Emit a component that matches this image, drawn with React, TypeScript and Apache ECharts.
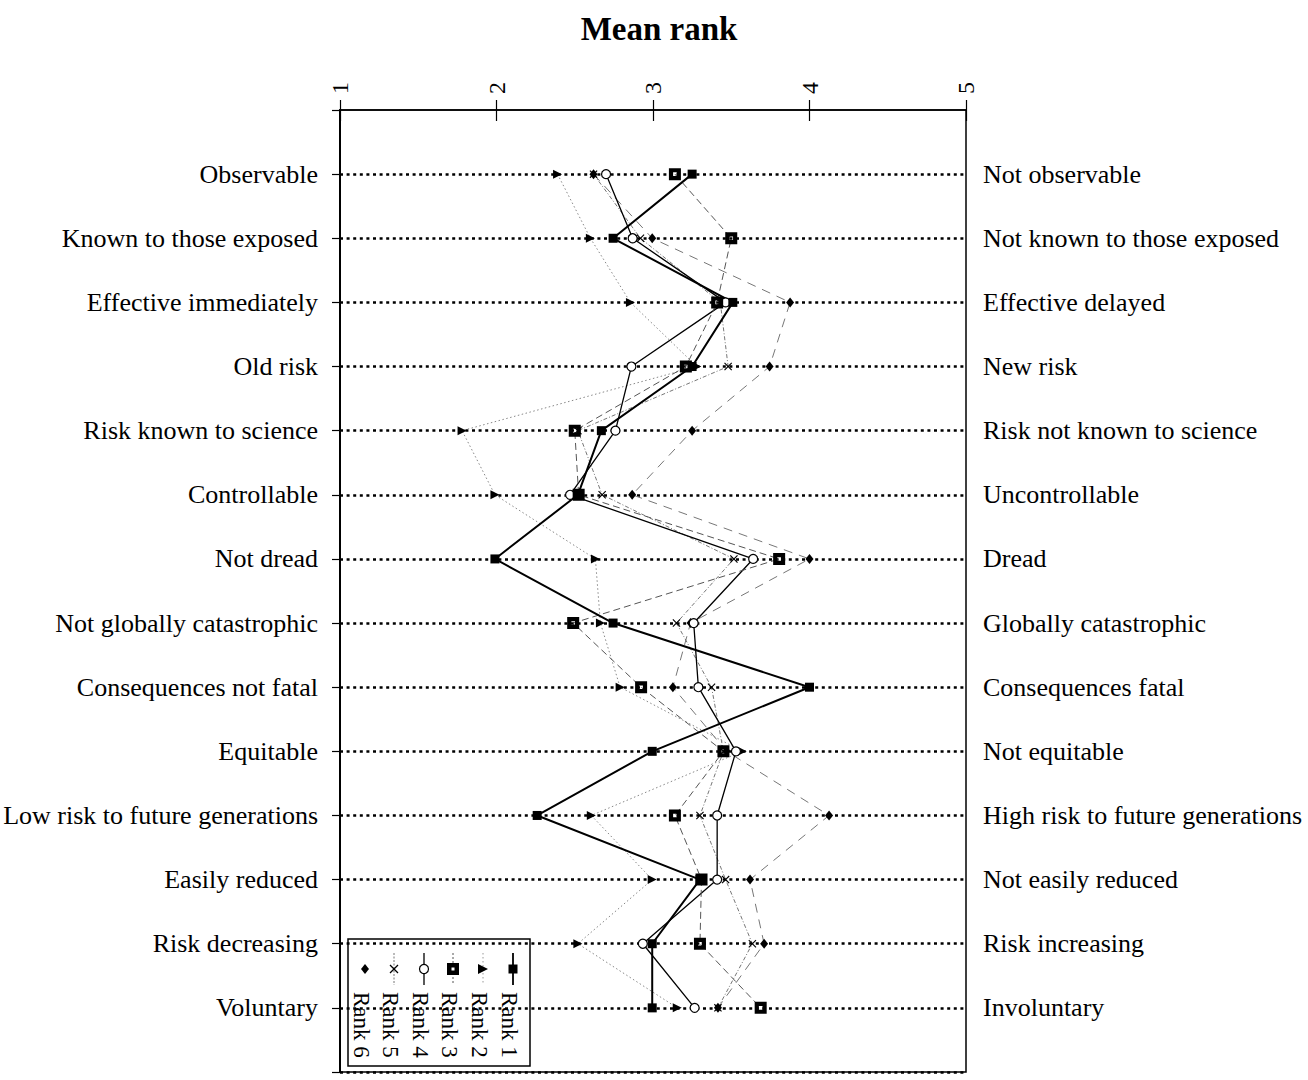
import React, { useEffect, useRef } from "react";
import * as echarts from "echarts";

const leftLabels = [
  "Observable",
  "Known to those exposed",
  "Effective immediately",
  "Old risk",
  "Risk known to science",
  "Controllable",
  "Not dread",
  "Not globally catastrophic",
  "Consequences not fatal",
  "Equitable",
  "Low risk to future generations",
  "Easily reduced",
  "Risk decreasing",
  "Voluntary",
];

const rightLabels = [
  "Not observable",
  "Not known to those exposed",
  "Effective delayed",
  "New risk",
  "Risk not known to science",
  "Uncontrollable",
  "Dread",
  "Globally catastrophic",
  "Consequences fatal",
  "Not equitable",
  "High risk to future generations",
  "Not easily reduced",
  "Risk increasing",
  "Involuntary",
];

const rankTicks = [1, 2, 3, 4, 5];

const rank1 = [3.25, 2.745, 3.51, 3.25, 2.67, 2.52, 1.99, 2.745, 4.0, 2.995, 2.26, 3.3, 2.995, 2.995];
const rank2 = [2.39, 2.6, 2.856, 3.28, 1.78, 1.99, 2.632, 2.664, 2.79, 3.57, 2.606, 2.995, 2.52, 3.155];
const rank3 = [3.14, 3.5, 3.41, 3.21, 2.5, 2.525, 3.806, 2.49, 2.924, 3.45, 3.14, 3.31, 3.3, 3.688];
const rank4 = [2.7, 2.87, 3.464, 2.862, 2.76, 2.47, 3.64, 3.26, 3.29, 3.53, 3.41, 3.41, 2.935, 3.266];
const rank5 = [2.62, 2.92, 3.43, 3.48, 2.52, 2.675, 3.517, 3.15, 3.374, 3.45, 3.3, 3.464, 3.635, 3.415];
const rank6 = [2.62, 2.995, 3.876, 3.745, 3.25, 2.867, 4.0, 3.24, 3.127, 3.47, 4.125, 3.62, 3.71, 3.415];

const FONT = "'Liberation Serif', 'Times New Roman', serif";

const SYM_BOX = "path://M0,0H10V10H0Z M3.5,3.5V6.5H6.5V3.5Z";
const SYM_TRI = "path://M0,0L10,5L0,10Z";
const SYM_X = "path://M0,1L1,0L5,4L9,0L10,1L6,5L10,9L9,10L5,6L1,10L0,9L4,5Z";

function toPts(vals: number[]) {
  return vals.map((v, i) => [v, i]);
}

export default function App() {
  const ref = useRef<HTMLDivElement>(null);
  useEffect(() => {
    if (!ref.current) return;
    const chart = echarts.init(ref.current, null, { renderer: "svg" });

    const seriesDefs = [
      { name: "Rank 6", data: rank6, symbol: "diamond", size: [8, 10], color: "#000", line: { color: "#777", width: 1, type: [9, 7] } },
      { name: "Rank 5", data: rank5, symbol: SYM_X, size: 8, color: "#000", line: { color: "#666", width: 0.9, type: [4, 2, 1, 2] } },
      { name: "Rank 2", data: rank2, symbol: SYM_TRI, size: 9, color: "#000", line: { color: "#888", width: 1, type: [1.5, 2.5] } },
      { name: "Rank 4", data: rank4, symbol: "circle", size: 9, color: "#fff", border: true, line: { color: "#000", width: 1.3, type: "solid" } },
      { name: "Rank 3", data: rank3, symbol: SYM_BOX, size: 12, color: "#000", line: { color: "#555", width: 1, type: [7, 4] } },
      { name: "Rank 1", data: rank1, symbol: "rect", size: 9, color: "#000", line: { color: "#000", width: 2, type: "solid" } },
    ];

    const series = seriesDefs.map((d) => ({
      name: d.name,
      type: "line",
      xAxisIndex: 0,
      yAxisIndex: 0,
      data: toPts(d.data),
      symbol: d.symbol,
      symbolSize: d.size,
      showAllSymbol: true,
      lineStyle: { color: d.line.color, width: d.line.width, type: d.line.type },
      itemStyle: d.border
        ? { color: d.color, borderColor: "#000", borderWidth: 1.2 }
        : { color: d.color, borderWidth: 0 },
      emphasis: { disabled: true },
      z: 3,
    }));

    // Legend (rotated like the reference)
    const lx = 348, ly = 939, lw = 182, lh = 127;
    const cols = [
      { label: "Rank 1", x: 513, kind: "sq", line: { stroke: "#000", lineWidth: 1.8 } },
      { label: "Rank 2", x: 483, kind: "tri", line: { stroke: "#999", lineWidth: 1, lineDash: [1.5, 2.5] } },
      { label: "Rank 3", x: 453, kind: "box", line: { stroke: "#555", lineWidth: 1, lineDash: [2, 2] } },
      { label: "Rank 4", x: 424, kind: "circ", line: { stroke: "#000", lineWidth: 1.3 } },
      { label: "Rank 5", x: 394, kind: "x", line: { stroke: "#666", lineWidth: 0.9, lineDash: [2, 1.5] } },
      { label: "Rank 6", x: 365, kind: "dia", line: null },
    ];
    const symY = 969;
    const legendChildren: any[] = [
      { type: "rect", shape: { x: lx, y: ly, width: lw, height: lh }, style: { fill: "#fff", stroke: "#000", lineWidth: 1.5 } },
    ];
    cols.forEach((c) => {
      if (c.line) {
        legendChildren.push({ type: "line", shape: { x1: c.x, y1: 953, x2: c.x, y2: 985 }, style: { ...c.line, fill: null } });
      }
      if (c.kind === "sq") {
        legendChildren.push({ type: "rect", shape: { x: c.x - 4.5, y: symY - 4.5, width: 9, height: 9 }, style: { fill: "#000" } });
      } else if (c.kind === "tri") {
        legendChildren.push({ type: "polygon", shape: { points: [[c.x - 5, symY - 5], [c.x + 5, symY], [c.x - 5, symY + 5]] }, style: { fill: "#000" } });
      } else if (c.kind === "box") {
        legendChildren.push({ type: "rect", shape: { x: c.x - 6, y: symY - 6, width: 12, height: 12 }, style: { fill: "#000" } });
        legendChildren.push({ type: "rect", shape: { x: c.x - 1.5, y: symY - 1.5, width: 3, height: 3 }, style: { fill: "#fff" } });
      } else if (c.kind === "circ") {
        legendChildren.push({ type: "circle", shape: { cx: c.x, cy: symY, r: 4.5 }, style: { fill: "#fff", stroke: "#000", lineWidth: 1.2 } });
      } else if (c.kind === "x") {
        legendChildren.push({ type: "line", shape: { x1: c.x - 4, y1: symY - 4, x2: c.x + 4, y2: symY + 4 }, style: { stroke: "#000", lineWidth: 1.2 } });
        legendChildren.push({ type: "line", shape: { x1: c.x + 4, y1: symY - 4, x2: c.x - 4, y2: symY + 4 }, style: { stroke: "#000", lineWidth: 1.2 } });
      } else if (c.kind === "dia") {
        legendChildren.push({ type: "polygon", shape: { points: [[c.x, symY - 5], [c.x + 4, symY], [c.x, symY + 5], [c.x - 4, symY]] }, style: { fill: "#000" } });
      }
      legendChildren.push({
        type: "text",
        x: c.x - 4,
        y: 992,
        rotation: -Math.PI / 2,
        style: { text: c.label, font: `23px ${FONT}`, fill: "#000", textAlign: "left", textVerticalAlign: "middle" },
      });
    });

    // split line colours: hide the one on the top frame so the frame stays solid
    const splitColors = ["rgba(0,0,0,0)"].concat(leftLabels.map(() => "#000"), ["#000"]);

    const option: any = {
      animation: false,
      backgroundColor: "#fff",
      title: {
        text: "Mean rank",
        left: 654,
        textAlign: "center",
        top: 7,
        textStyle: { fontFamily: FONT, fontSize: 33, fontWeight: "bold", color: "#000" },
      },
      grid: {
        left: 340,
        top: 110,
        width: 626,
        height: 962,
        show: true,
        borderColor: "#000",
        borderWidth: 1.5,
        backgroundColor: "transparent",
        containLabel: false,
      },
      xAxis: [
        {
          type: "value",
          position: "top",
          min: rankTicks[0],
          max: rankTicks[rankTicks.length - 1],
          interval: 1,
          axisLine: { show: true, onZero: false, lineStyle: { color: "#000", width: 1.5 } },
          axisTick: { show: true, inside: false, length: 10, lineStyle: { color: "#000", width: 1.2 } },
          axisLabel: { rotate: -90, margin: 16, fontFamily: FONT, fontSize: 24, color: "#000" },
          splitLine: { show: false },
        },
        {
          type: "value",
          position: "top",
          min: rankTicks[0],
          max: rankTicks[rankTicks.length - 1],
          interval: 1,
          axisLine: { show: false, onZero: false },
          axisTick: { show: true, inside: true, length: 11, lineStyle: { color: "#000", width: 1.2 } },
          axisLabel: { show: false },
          splitLine: { show: false },
        },
      ],
      yAxis: [
        {
          type: "value",
          inverse: true,
          min: -1,
          max: leftLabels.length,
          interval: 1,
          axisLine: { show: true, onZero: false, lineStyle: { color: "#000", width: 2 } },
          axisTick: { show: true, inside: false, length: 8, lineStyle: { color: "#000", width: 1.2 } },
          axisLabel: {
            margin: 22,
            fontFamily: FONT,
            fontSize: 26,
            color: "#000",
            formatter: (v: number) => leftLabels[v] ?? "",
          },
          splitLine: { show: true, lineStyle: { color: splitColors, width: 2.5, type: [3, 3.6] } },
        },
        {
          type: "value",
          inverse: true,
          position: "right",
          min: -1,
          max: rightLabels.length,
          interval: 1,
          axisLine: { show: false, onZero: false },
          axisTick: { show: false },
          axisLabel: {
            margin: 17,
            fontFamily: FONT,
            fontSize: 26,
            color: "#000",
            formatter: (v: number) => rightLabels[v] ?? "",
          },
          splitLine: { show: false },
        },
      ],
      series,
      graphic: [{ type: "group", z: 100, children: legendChildren }],
    };

    chart.setOption(option);
    return () => chart.dispose();
  }, []);

  return <div ref={ref} style={{ position: "fixed", left: 0, top: 0, width: 1308, height: 1080, background: "#fff" }} />;
}
